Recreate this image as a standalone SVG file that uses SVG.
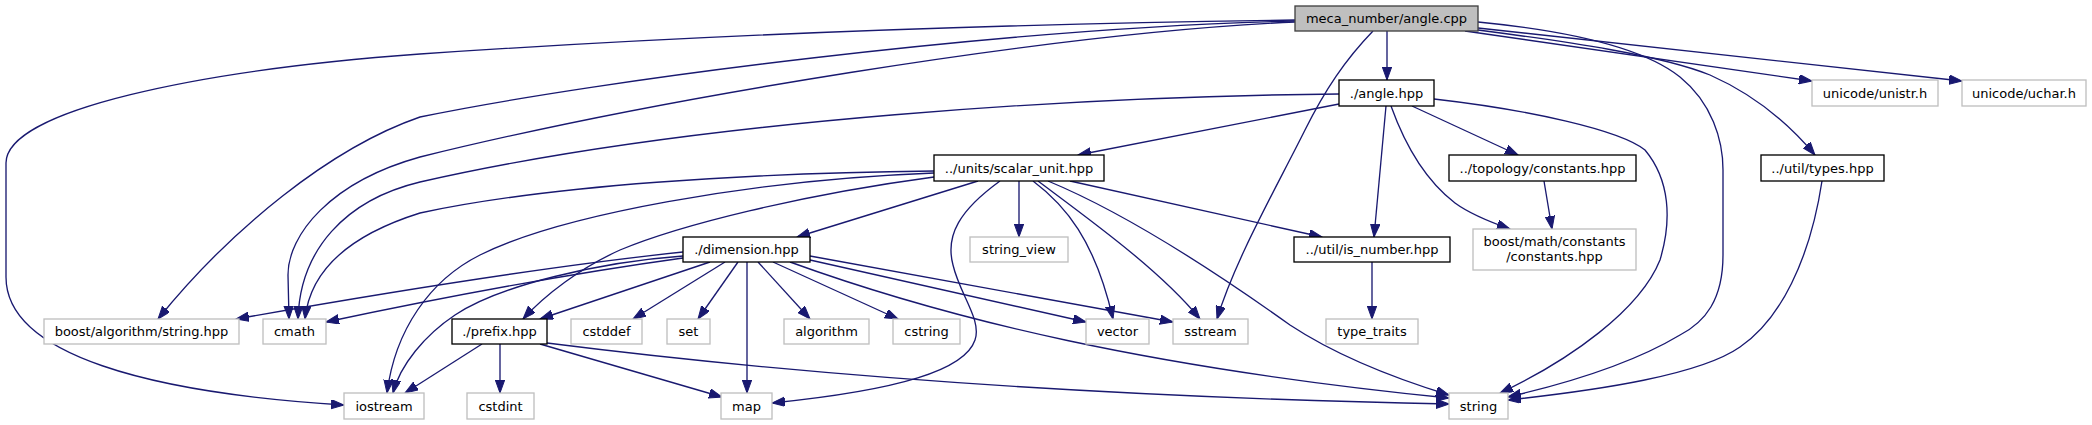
<svg xmlns="http://www.w3.org/2000/svg" width="2092" height="425" viewBox="0 0 2092 425">
<style>
.n rect{fill:#fff;stroke:#000;stroke-width:1.33}
.g rect{fill:#fff;stroke:#bfbfbf;stroke-width:1.33}
.r rect{fill:#bfbfbf;stroke:#404040;stroke-width:1.33}
text{font-family:"DejaVu Sans",sans-serif;font-size:13px;text-anchor:middle;fill:#000}
#edges path{fill:none;stroke:#191970;stroke-width:1.33;marker-end:url(#ah)}
</style>
<defs>
<marker id="ah" markerUnits="userSpaceOnUse" markerWidth="14" markerHeight="10" refX="13" refY="4.7" orient="auto">
<path d="M0,0 L13,4.7 L0,9.4 z" fill="#191970" stroke="#191970" stroke-width="1"/>
</marker>
</defs>
<rect width="2092" height="425" fill="#fff"/>
<g id="edges">
<path d="M1387,31 L1387,80"/>
<path d="M1295,21 C1000,28 600,80 420,117 C330,148 230,230 158,319"/>
<path d="M1295,22 C1050,33 650,100 420,157 C330,182 288,235 288,275 L289,319"/>
<path d="M1295,20 C1000,24 700,35 420,54 C200,70 6,110 6,163 L6,277 C6,355 150,393 344,405"/>
<path d="M1373,31 C1345,60 1325,90 1305,130 C1275,190 1235,260 1217,319"/>
<path d="M1478,22 C1560,30 1640,45 1680,77 C1712,103 1723,140 1723,170 L1723,255 C1723,300 1705,322 1680,335 C1630,365 1560,385 1508,397"/>
<path d="M1465,31 L1812,81"/>
<path d="M1478,28 L1962,81"/>
<path d="M1478,30 C1570,42 1660,55 1710,75 C1755,95 1790,125 1815,155"/>
<path d="M1339,104 L1078,155"/>
<path d="M1339,94 C1100,96 700,118 420,182 C345,200 300,250 298,319"/>
<path d="M1412,106 L1518,155"/>
<path d="M1386,106 L1374,237"/>
<path d="M1391,106 C1405,145 1425,180 1455,203 C1470,214 1490,222 1510,229"/>
<path d="M1434,99 C1530,110 1620,130 1645,150 C1670,180 1672,220 1660,260 C1640,310 1570,360 1500,393"/>
<path d="M978,181 L797,237"/>
<path d="M1019,181 L1019,237"/>
<path d="M1070,181 L1322,237"/>
<path d="M1000,181 C960,210 945,235 953,265 C960,295 982,320 975,340 C965,370 900,390 772,403"/>
<path d="M1033,181 C1065,205 1095,240 1113,319"/>
<path d="M1038,181 C1090,220 1160,270 1200,319"/>
<path d="M1048,181 C1130,215 1220,275 1290,325 C1340,358 1400,380 1449,395"/>
<path d="M934,171 C750,173 550,185 420,213 C350,235 310,270 305,319"/>
<path d="M934,173 C750,180 560,215 480,255 C430,280 395,330 387,393"/>
<path d="M934,177 C800,195 680,225 620,250 C580,268 545,295 523,319"/>
<path d="M683,252 C560,265 400,290 236,319"/>
<path d="M683,258 C560,275 430,300 326,322"/>
<path d="M683,256 C600,262 500,285 455,315 C425,335 400,365 393,393"/>
<path d="M710,262 L540,319"/>
<path d="M725,262 L633,319"/>
<path d="M738,262 L698,319"/>
<path d="M747,262 L747,393"/>
<path d="M758,262 L810,319"/>
<path d="M773,262 L898,319"/>
<path d="M810,260 L1086,322"/>
<path d="M810,256 L1173,322"/>
<path d="M790,262 C950,320 1150,368 1449,398"/>
<path d="M482,344 L405,393"/>
<path d="M500,344 L500,393"/>
<path d="M540,344 L722,397"/>
<path d="M547,343 C800,375 1100,397 1449,404"/>
<path d="M1544,181 L1552,229"/>
<path d="M1372,262 L1372,319"/>
<path d="M1822,181 C1810,260 1780,320 1740,347 C1700,375 1600,390 1508,400"/>
</g>
<g id="n_root" class="r"><rect x="1295" y="6" width="183" height="25"/><text x="1386.5" y="23">meca_number/angle.cpp</text></g>
<g id="n_angle" class="n"><rect x="1339" y="80" width="95" height="26"/><text x="1386.5" y="97.5">./angle.hpp</text></g>
<g id="n_unistr" class="g"><rect x="1812" y="80" width="126" height="26"/><text x="1875" y="97.5">unicode/unistr.h</text></g>
<g id="n_uchar" class="g"><rect x="1962" y="80" width="124" height="26"/><text x="2024" y="97.5">unicode/uchar.h</text></g>
<g id="n_scalar" class="n"><rect x="934" y="155" width="170" height="26"/><text x="1019" y="172.5">../units/scalar_unit.hpp</text></g>
<g id="n_topology" class="n"><rect x="1449" y="155" width="187" height="26"/><text x="1542.5" y="172.5">../topology/constants.hpp</text></g>
<g id="n_types" class="n"><rect x="1761" y="155" width="123" height="26"/><text x="1822.5" y="172.5">../util/types.hpp</text></g>
<g id="n_dimension" class="n"><rect x="683" y="237" width="127" height="25"/><text x="746.5" y="254">./dimension.hpp</text></g>
<g id="n_string_view" class="g"><rect x="970" y="237" width="98" height="25"/><text x="1019" y="254">string_view</text></g>
<g id="n_is_number" class="n"><rect x="1294" y="237" width="156" height="25"/><text x="1372" y="254">../util/is_number.hpp</text></g>
<g id="n_boost_math" class="g"><rect x="1473" y="229" width="163" height="41"/><text x="1554.5" y="246">boost/math/constants</text><text x="1554.5" y="261">/constants.hpp</text></g>
<g id="n_boost_algo" class="g"><rect x="44" y="319" width="195" height="25"/><text x="141.5" y="336">boost/algorithm/string.hpp</text></g>
<g id="n_cmath" class="g"><rect x="263" y="319" width="63" height="25"/><text x="294.5" y="336">cmath</text></g>
<g id="n_prefix" class="n"><rect x="452" y="319" width="95" height="25"/><text x="499.5" y="336">./prefix.hpp</text></g>
<g id="n_cstddef" class="g"><rect x="571" y="319" width="71" height="25"/><text x="606.5" y="336">cstddef</text></g>
<g id="n_set" class="g"><rect x="667" y="319" width="43" height="25"/><text x="688.5" y="336">set</text></g>
<g id="n_algorithm" class="g"><rect x="784" y="319" width="85" height="25"/><text x="826.5" y="336">algorithm</text></g>
<g id="n_cstring" class="g"><rect x="893" y="319" width="67" height="25"/><text x="926.5" y="336">cstring</text></g>
<g id="n_vector" class="g"><rect x="1086" y="319" width="63" height="25"/><text x="1117.5" y="336">vector</text></g>
<g id="n_sstream" class="g"><rect x="1173" y="319" width="75" height="25"/><text x="1210.5" y="336">sstream</text></g>
<g id="n_type_traits" class="g"><rect x="1326" y="319" width="92" height="25"/><text x="1372" y="336">type_traits</text></g>
<g id="n_iostream" class="g"><rect x="344" y="393" width="80" height="26"/><text x="384" y="410.5">iostream</text></g>
<g id="n_cstdint" class="g"><rect x="467" y="393" width="67" height="26"/><text x="500.5" y="410.5">cstdint</text></g>
<g id="n_map" class="g"><rect x="721" y="393" width="51" height="26"/><text x="746.5" y="410.5">map</text></g>
<g id="n_string" class="g"><rect x="1449" y="393" width="59" height="26"/><text x="1478.5" y="410.5">string</text></g>
</svg>
